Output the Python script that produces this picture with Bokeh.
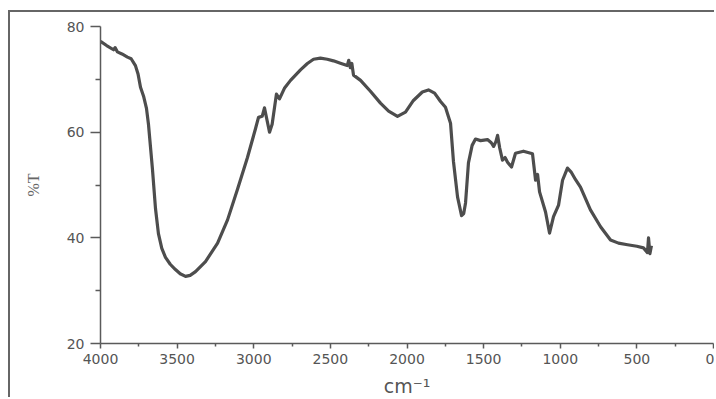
from bokeh.plotting import figure
from bokeh.models import Range1d, FixedTicker
from bokeh.embed import file_html
from bokeh.resources import INLINE

wavenumber = [4000, 3960, 3915, 3905, 3890, 3860, 3824, 3800, 3772, 3755, 3739, 3719, 3700,
              3687, 3661, 3641, 3622, 3600, 3576, 3545, 3511, 3480, 3445, 3415, 3380, 3315,
              3236, 3171, 3106, 3041, 2990, 2969, 2945, 2930, 2915, 2897, 2880, 2852, 2832,
              2800, 2760, 2695, 2650, 2610, 2565, 2520, 2480, 2430, 2390, 2380, 2370, 2360,
              2349, 2303, 2240, 2173, 2120, 2062, 2010, 1958, 1900, 1860, 1820, 1781, 1749,
              1716, 1697, 1670, 1644, 1630, 1618, 1599, 1575, 1553, 1520, 1475, 1450, 1435,
              1420, 1409, 1395, 1377, 1360, 1344, 1318, 1292, 1240, 1181, 1161, 1148, 1135,
              1096, 1070, 1044, 1011, 985, 953, 930, 900, 868, 803, 737, 672, 620, 561, 500,
              457, 431, 424, 415, 405]
transmittance = [77.2, 76.4, 75.6, 76.0, 75.2, 74.8, 74.2, 73.9, 72.6, 71.0, 68.5, 66.8, 64.5,
                 61.5, 53.0, 45.5, 40.8, 38.0, 36.3, 35.0, 34.0, 33.2, 32.7, 32.9, 33.6, 35.5,
                 39.0, 43.4, 49.2, 55.2, 60.5, 62.8, 63.0, 64.6, 62.5, 60.0, 61.5, 67.2, 66.3,
                 68.3, 69.8, 71.8, 73.0, 73.8, 74.0, 73.8, 73.5, 73.0, 72.6, 73.6, 72.2, 73.0,
                 70.8, 69.8, 67.8, 65.5, 64.0, 63.0, 63.8, 66.0, 67.6, 68.0, 67.4, 65.8, 64.7,
                 61.7, 54.5, 47.7, 44.2, 44.6, 46.6, 54.2, 57.5, 58.7, 58.4, 58.6, 58.0, 57.3,
                 58.2, 59.4, 57.0, 54.7, 55.2, 54.3, 53.4, 56.0, 56.4, 55.9, 50.9, 52.0, 48.7,
                 44.9, 40.9, 44.0, 46.2, 50.9, 53.2, 52.5, 51.0, 49.6, 45.3, 42.1, 39.6, 39.0,
                 38.7, 38.4, 38.1, 37.2, 40.0, 37.0, 38.5]

x_major = [0, 500, 1000, 1500, 2000, 2500, 3000, 3500, 4000]
x_minor = [250, 750, 1250, 1750, 2250, 2750, 3250, 3750]
y_major = [20, 40, 60, 80]
y_minor = [30, 50, 70]

GREY = "#5a5a5a"

p = figure(width=706, height=387, output_backend="svg", toolbar_location=None,
           x_range=Range1d(4000, 0), y_range=Range1d(20, 80),
           min_border_left=90, min_border_right=3, min_border_top=14, min_border_bottom=55)
p.styles = {"margin-left": "8px", "margin-top": "10px",
            "border-left": "2px solid #666666", "border-top": "2px solid #666666"}
p.outline_line_color = None
p.grid.visible = False
p.background_fill_color = "white"
p.border_fill_color = "white"

p.line(wavenumber, transmittance, line_color="#4d4d4d", line_width=3.2, line_join="round")

for ax in (p.xaxis[0], p.yaxis[0]):
    ax.axis_line_color = GREY
    ax.axis_line_width = 1.5
    ax.major_tick_line_color = GREY
    ax.minor_tick_line_color = GREY
    ax.major_tick_line_width = 1.5
    ax.minor_tick_line_width = 1.5
    ax.major_tick_in = 0
    ax.minor_tick_in = 0
    ax.major_label_text_color = "#555555"
    ax.major_label_text_font = "DejaVu Sans"
    ax.major_label_text_font_size = "14px"

p.xaxis.ticker = FixedTicker(ticks=x_major, minor_ticks=x_minor)
p.yaxis.ticker = FixedTicker(ticks=y_major, minor_ticks=y_minor)
p.xaxis.major_tick_out = 5
p.xaxis.minor_tick_out = 3
p.xaxis.major_label_standoff = 5
p.yaxis.major_tick_out = 10
p.yaxis.minor_tick_out = 5
p.yaxis.major_label_standoff = 6

p.yaxis.axis_label = "%T"
p.yaxis.axis_label_text_font = "Liberation Serif"
p.yaxis.axis_label_text_font_style = "normal"
p.yaxis.axis_label_text_font_size = "16px"
p.yaxis.axis_label_text_color = "#666666"
p.yaxis.axis_label_standoff = 22

p.xaxis.axis_label = "cm\u207b\u00b9"
p.xaxis.axis_label_text_font = "DejaVu Sans"
p.xaxis.axis_label_text_font_style = "normal"
p.xaxis.axis_label_text_font_size = "19px"
p.xaxis.axis_label_text_color = "#555555"
p.xaxis.axis_label_standoff = 8

open("out.html", "w").write(file_html(p, INLINE))
